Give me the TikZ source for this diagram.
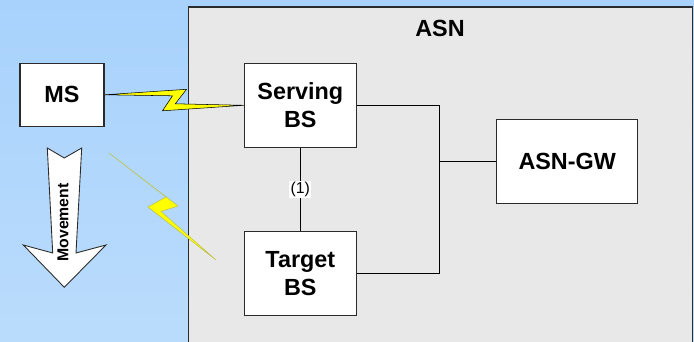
\documentclass[tikz,border=0pt]{standalone}
\usepackage{fontspec}
\setmainfont{Liberation Sans}
\usetikzlibrary{calc}
\definecolor{SkyTop}{HTML}{A8D2FC}
\definecolor{SkyBot}{HTML}{BADCFC}
\definecolor{AsnFill}{HTML}{E8E8E8}
\definecolor{Edge}{HTML}{2B2B2B}
\definecolor{Bolt}{HTML}{FFFF00}

\begin{document}
\begin{tikzpicture}[x=1cm,y=1cm,
  unit/.style={draw=Edge,fill=white,line width=0.6pt,inner sep=0pt,align=center,
    font=\fontsize{13.3}{16.2}\selectfont\bfseries},
  link/.style={black,line width=0.6pt},
  bolt/.style={fill=Bolt,draw=black,line width=0.3pt,line join=miter},
  fadebolt/.style={fill=Bolt,draw=Bolt!45!gray,line width=0.25pt,line join=miter}]
\useasboundingbox (0,0) rectangle (13.88,-6.84);
\clip (0,0) rectangle (13.88,-6.84);
% background and access network
\shade[top color=SkyTop,bottom color=SkyBot] (0,0) rectangle (13.88,-6.84);
\draw[fill=AsnFill,draw=Edge,line width=0.9pt] (3.766,-0.14) rectangle (13.854,-7.00);
\node[font=\fontsize{13.3}{16.2}\selectfont\bfseries] (asn) at (8.80,-0.56) {ASN};
% units
\node[unit,minimum width=1.68cm,minimum height=1.27cm] (ms) at (1.24,-1.896) {MS};
\node[unit,minimum width=2.24cm,minimum height=1.68cm] (sbs) at (6.006,-2.106) {Serving\\BS};
\node[unit,minimum width=2.24cm,minimum height=1.68cm] (tbs) at (6.006,-5.476) {Target\\BS};
\node[unit,minimum width=2.82cm,minimum height=1.68cm] (gw) at (11.344,-3.226) {ASN-GW};
% movement arrow
\draw[fill=white,draw=Edge,line width=0.5pt] (0.946,-2.96) -- (1.286,-3.16) -- (1.634,-2.96)
  -- (1.52,-5.06) -- (2.12,-4.90) -- (1.286,-5.746) -- (0.466,-4.90) -- (1.054,-5.06) -- cycle;
\node[rotate=90,font=\fontsize{9}{10}\selectfont\bfseries] (move) at (1.26,-4.45) {Movement};
% radio links
\draw[bolt] (ms.east) -- ($(ms.east)+(1.64,0.11)$) -- ($(sbs.west)+(-1.37,0.03)$) -- (sbs.west)
  -- ($(ms.east)+(1.16,-0.32)$) -- ($(ms.east)+(1.36,-0.02)$) -- cycle;
\coordinate (fade1) at (2.18,-3.06);
\coordinate (fade2) at (4.32,-5.20);
\draw[fadebolt] (fade1) -- (3.56,-4.12) -- (3.22,-4.23) -- (fade2) -- (2.96,-4.14) -- (3.32,-3.94) -- cycle;
% wired links
\coordinate (hub) at (8.786,-3.226);
\draw[link] (sbs) -- node[midway,fill=white,inner sep=0.8pt,font=\fontsize{9}{10}\selectfont] {(1)} (tbs);
\draw[link] (sbs.east) -| (hub) |- (tbs.east);
\draw[link] (hub) -- (gw.west);
\end{tikzpicture}
\end{document}
